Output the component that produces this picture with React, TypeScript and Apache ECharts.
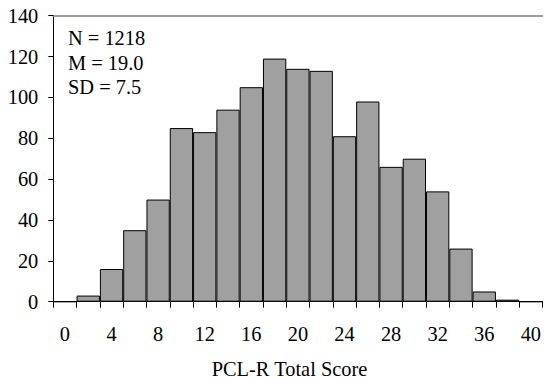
import React, { useEffect, useRef } from "react";
import * as echarts from "echarts";

const categories = ["0","2","4","6","8","10","12","14","16","18","20","22","24","26","28","30","32","34","36","38","40"];
const counts = [0, 3, 16, 35, 50, 85, 83, 94, 105, 119, 114, 113, 81, 98, 66, 70, 54, 26, 5, 1, 0];
const yMin = 0;
const yMax = 140;
const yStep = 20;
const statsLines = ["N = 1218", "M = 19.0", "SD = 7.5"];
const xTitle = "PCL-R Total Score";

const FONT = "'Liberation Serif', 'Times New Roman', serif";

export default function App() {
  const ref = useRef<HTMLDivElement>(null);
  useEffect(() => {
    if (!ref.current) return;
    const chart = echarts.init(ref.current, undefined, { renderer: "svg" });
    chart.setOption({
      animation: false,
      backgroundColor: "#ffffff",
      grid: { left: 53.3, top: 15.7, width: 491.4, height: 286, containLabel: false },
      xAxis: [
        {
          type: "category",
          data: categories,
          boundaryGap: true,
          axisLine: { show: true, lineStyle: { color: "#000", width: 1 } },
          axisTick: { show: true, interval: 0, length: 6, inside: false, lineStyle: { color: "#000" } },
          axisLabel: { interval: 1, margin: 22, fontFamily: FONT, fontSize: 20.4, color: "#000" },
          splitLine: { show: false },
        },
        {
          type: "category",
          data: categories,
          position: "top",
          axisLine: { show: true, lineStyle: { color: "#808080", width: 1.5 } },
          axisTick: { show: false },
          axisLabel: { show: false },
          splitLine: { show: false },
        },
      ],
      yAxis: {
        type: "value",
        min: yMin,
        max: yMax,
        interval: yStep,
        axisLine: { show: true, lineStyle: { color: "#000", width: 1 } },
        axisTick: { show: true, length: 5, lineStyle: { color: "#000" } },
        axisLabel: { margin: 15, fontFamily: FONT, fontSize: 20.4, color: "#000" },
        splitLine: { show: false },
      },
      series: [
        {
          type: "bar",
          data: counts,
          barCategoryGap: "0%",
          barGap: "0%",
          itemStyle: { color: "#a0a0a0", borderColor: "#000", borderWidth: 1 },
          silent: true,
        },
      ],
      graphic: [
        {
          type: "text",
          left: 68,
          top: 26,
          style: {
            text: statsLines.join("\n"),
            font: `20.4px ${FONT}`,
            lineHeight: 24.5,
            fill: "#000",
          },
        },
        {
          type: "text",
          x: 289.5,
          y: 369,
          style: {
            text: xTitle,
            font: `20.4px ${FONT}`,
            textAlign: "center",
            textVerticalAlign: "middle",
            fill: "#000",
          },
        },
      ],
    });
    return () => chart.dispose();
  }, []);
  return <div ref={ref} style={{ position: "fixed", left: 0, top: 0, width: 544, height: 379 }} />;
}
